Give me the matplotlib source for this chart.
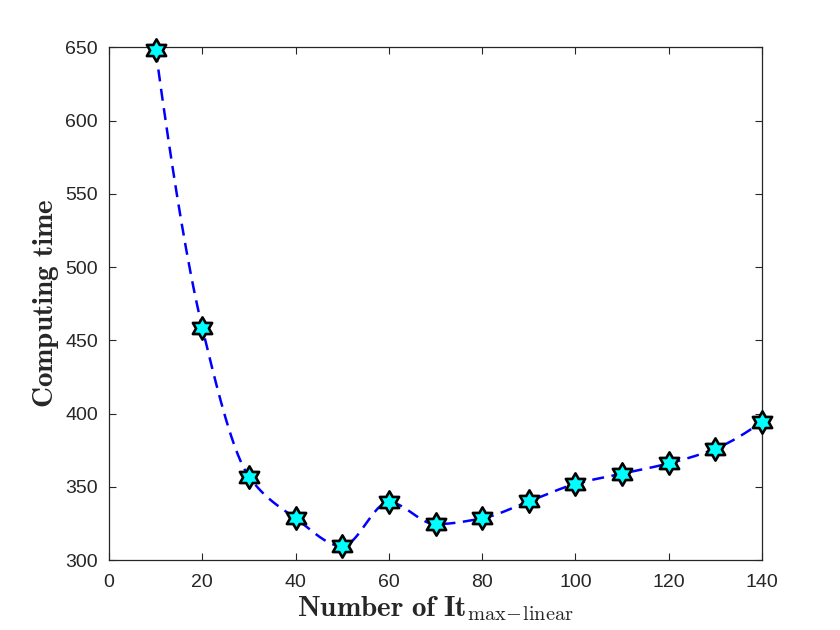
import numpy as np
import matplotlib
matplotlib.use("Agg")
import matplotlib.pyplot as plt
from matplotlib.path import Path

plt.rcParams['mathtext.fontset'] = 'cm'

# ---- data ----
iterations = [10, 20, 30, 40, 50, 60, 70, 80, 90, 100, 110, 120, 130, 140]
computing_time = [648, 458.5, 357, 328.5, 309.5, 339.5, 324.5, 328.5, 340, 352, 359, 366, 376, 394.5]
x_ticks = [0, 20, 40, 60, 80, 100, 120, 140]
y_ticks = [300, 350, 400, 450, 500, 550, 600, 650]


def pchip(x, y, xq):
    x = np.asarray(x, float); y = np.asarray(y, float)
    h = np.diff(x); d = np.diff(y) / h
    n = len(x); m = np.zeros(n)
    for k in range(1, n - 1):
        if d[k - 1] * d[k] > 0:
            w1 = 2 * h[k] + h[k - 1]; w2 = h[k] + 2 * h[k - 1]
            m[k] = (w1 + w2) / (w1 / d[k - 1] + w2 / d[k])
    def end(h0, h1, d0, d1):
        s = ((2 * h0 + h1) * d0 - h0 * d1) / (h0 + h1)
        if np.sign(s) != np.sign(d0):
            s = 0
        elif np.sign(d0) != np.sign(d1) and abs(s) > abs(3 * d0):
            s = 3 * d0
        return s
    m[0] = end(h[0], h[1], d[0], d[1])
    m[-1] = end(h[-1], h[-2], d[-1], d[-2])
    idx = np.clip(np.searchsorted(x, xq) - 1, 0, n - 2)
    t = (xq - x[idx]) / h[idx]
    h00 = 2 * t**3 - 3 * t**2 + 1; h10 = t**3 - 2 * t**2 + t
    h01 = -2 * t**3 + 3 * t**2; h11 = t**3 - t**2
    return h00 * y[idx] + h10 * h[idx] * m[idx] + h01 * y[idx + 1] + h11 * h[idx] * m[idx + 1]


# hexagram marker
ang = np.deg2rad(90 + np.arange(12) * 30)
rad = np.where(np.arange(12) % 2 == 0, 1.0, 1.0 / np.sqrt(3))
verts = np.column_stack([rad * np.cos(ang), rad * np.sin(ang)])
verts = np.vstack([verts, verts[:1]])
codes = [Path.MOVETO] + [Path.LINETO] * 11 + [Path.CLOSEPOLY]
hexagram = Path(verts, codes)

fig = plt.figure(figsize=(8.4, 6.3), dpi=100)
ax = fig.add_axes([0.1298, 0.111, 0.7774, 0.814])

xs = np.linspace(iterations[0], iterations[-1], 400)
ys = pchip(iterations, computing_time, xs)
ax.plot(xs, ys, color='#0000ff', lw=1.8, dashes=(4.8, 3.0), zorder=2)
ax.plot(iterations, computing_time, linestyle='none', marker=hexagram, markersize=16,
        markerfacecolor='#00ffff', markeredgecolor='black', markeredgewidth=1.9,
        zorder=3, clip_on=False)

ax.set_xlim(0, 140)
ax.set_ylim(300, 650)
ax.set_xticks(x_ticks)
ax.set_yticks(y_ticks)
ax.tick_params(direction='in', top=True, right=True, length=5, width=0.8,
               colors='#262626', labelsize=14)
ax.tick_params(axis='x', pad=10)
ax.tick_params(axis='y', pad=8)
for lab in ax.get_xticklabels() + ax.get_yticklabels():
    lab.set_fontfamily('Liberation Sans')
for s in ax.spines.values():
    s.set_color('#262626'); s.set_linewidth(0.9)

ax.set_xlabel(r'$\mathbf{Number\ of\ It}_{\mathrm{max\!-\!linear}}$', fontsize=21, color='#262626', labelpad=2)
ax.set_ylabel(r'$\mathbf{Computing\ time}$', fontsize=21, color='#262626', labelpad=3)

fig.savefig('out.png', dpi=100)
